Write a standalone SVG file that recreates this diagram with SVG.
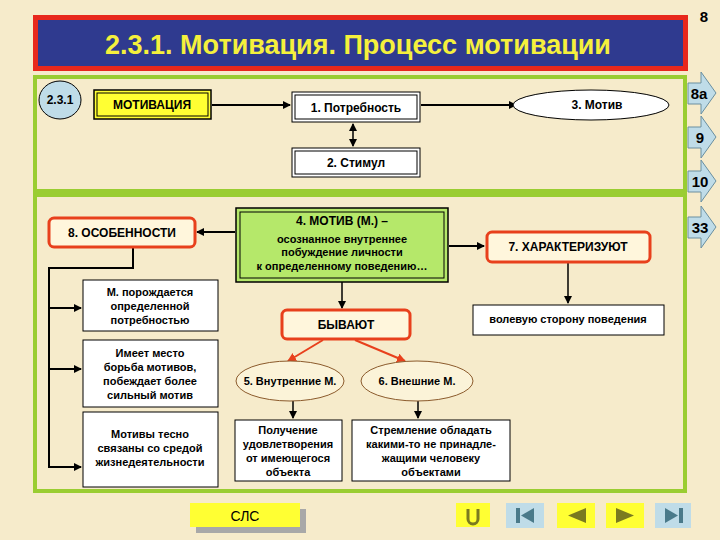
<svg xmlns="http://www.w3.org/2000/svg" width="720" height="540" viewBox="0 0 720 540">
<defs>
<marker id="ah" markerWidth="8" markerHeight="8" refX="7" refY="4" orient="auto" markerUnits="userSpaceOnUse"><path d="M0,0 L8,4 L0,8 Z" fill="#000"/></marker>
<marker id="ahs" markerWidth="8" markerHeight="8" refX="1" refY="4" orient="auto" markerUnits="userSpaceOnUse"><path d="M8,0 L0,4 L8,8 Z" fill="#000"/></marker>
<marker id="ahr" markerWidth="9" markerHeight="9" refX="8" refY="4.5" orient="auto" markerUnits="userSpaceOnUse"><path d="M0,0 L9,4.5 L0,9 Z" fill="#E8401C"/></marker>
</defs>
<style>
text{font-family:"Liberation Sans",Arial,sans-serif;font-weight:bold;text-anchor:middle;fill:#000}
.s{font-size:11px}
.m{font-size:12px}
.box{fill:#fff;stroke:#000;stroke-width:1}
.ell{fill:#FBF3D8;stroke:#8B5A2B;stroke-width:1}
.red{fill:#FFF6DC;stroke:#E8401C;stroke-width:3}
.ln{stroke:#000;stroke-width:2;fill:none}
.nav{fill:#BFDCE8;stroke:#6A8FA0;stroke-width:1}
</style>
<rect width="720" height="540" fill="#F6EBCB"/>
<rect x="33" y="15" width="655" height="56" fill="#E8281C"/>
<rect x="38" y="20" width="645" height="46" fill="#2F3A8F"/>
<text x="358" y="54" style="font-size:27px;fill:#F5F03C">2.3.1. Мотивация. Процесс мотивации</text>
<text x="704" y="22" style="font-size:15px">8</text>
<rect x="35" y="77" width="650" height="114" fill="none" stroke="#9ACD32" stroke-width="4"/>
<rect x="35" y="195" width="650" height="296" fill="none" stroke="#9ACD32" stroke-width="4"/>
<g id="nav-right">
<path d="M688,83 L701,83 L701,72 L716,93 L701,114 L701,104 L688,104 Z" class="nav"/><text x="699" y="99" style="font-size:15px">8а</text>
<path d="M688,127 L701,127 L701,116 L716,137 L701,158 L701,148 L688,148 Z" class="nav"/><text x="700" y="143" style="font-size:15px">9</text>
<path d="M688,171 L701,171 L701,160 L716,181 L701,202 L701,192 L688,192 Z" class="nav"/><text x="700" y="187" style="font-size:15px">10</text>
<path d="M688,217 L701,217 L701,206 L716,227 L701,248 L701,238 L688,238 Z" class="nav"/><text x="700" y="233" style="font-size:15px">33</text>
</g>
<g id="connectors">
<line x1="212" y1="105" x2="290" y2="105" class="ln" marker-end="url(#ah)"/>
<line x1="421" y1="105" x2="516" y2="105" class="ln" marker-end="url(#ah)"/>
<line x1="353" y1="124" x2="353" y2="146" stroke="#000" stroke-width="1.5" marker-start="url(#ahs)" marker-end="url(#ah)"/>
<line x1="235" y1="232" x2="197" y2="232" class="ln" marker-end="url(#ah)"/>
<line x1="449" y1="246" x2="484" y2="246" class="ln" marker-end="url(#ah)"/>
<line x1="568" y1="263" x2="568" y2="303" stroke="#000" stroke-width="1.5" marker-end="url(#ah)"/>
<line x1="342" y1="282" x2="342" y2="308" stroke="#000" stroke-width="1.5" marker-end="url(#ah)"/>
<line x1="323" y1="340" x2="288" y2="361" stroke="#E8401C" stroke-width="2" marker-end="url(#ahr)"/>
<line x1="355" y1="340" x2="405" y2="361" stroke="#E8401C" stroke-width="2" marker-end="url(#ahr)"/>
<line x1="293" y1="401" x2="293" y2="418" stroke="#000" stroke-width="1.5" marker-end="url(#ah)"/>
<line x1="418" y1="401" x2="418" y2="418" stroke="#000" stroke-width="1.5" marker-end="url(#ah)"/>
<polyline points="133,248 133,268 49,268 49,467 81,467" class="ln" marker-end="url(#ah)"/>
<line x1="49" y1="308" x2="81" y2="308" class="ln" marker-end="url(#ah)"/>
<line x1="49" y1="369" x2="81" y2="369" class="ln" marker-end="url(#ah)"/>
</g>
<g id="n231"><ellipse cx="60" cy="100" rx="21" ry="19" fill="#BFDCE8" stroke="#000"/><text x="60" y="104" class="m">2.3.1</text></g>
<g id="motivatsiya"><rect x="94" y="90" width="117" height="29" fill="#FFFF33" stroke="#000" stroke-width="1.5"/><rect x="97" y="93" width="111" height="23" fill="none" stroke="#000"/><text x="152" y="109" class="m">МОТИВАЦИЯ</text></g>
<g id="potrebnost"><rect x="292" y="92" width="128" height="30" class="box" stroke-width="1.5"/><rect x="295" y="95" width="122" height="24" fill="none" stroke="#000"/><text x="356" y="112" class="m">1. Потребность</text></g>
<g id="motiv3"><ellipse cx="591" cy="105" rx="78" ry="15" fill="#fff" stroke="#000"/><text x="597" y="109" class="m">3. Мотив</text></g>
<g id="stimul"><rect x="292" y="148" width="128" height="29" class="box" stroke-width="1.5"/><rect x="295" y="151" width="122" height="23" fill="none" stroke="#000"/><text x="356" y="167" class="m">2. Стимул</text></g>
<g id="osobennosti"><rect x="49" y="218" width="146" height="29" rx="5" class="red"/><text x="122" y="237" class="m">8. ОСОБЕННОСТИ</text></g>
<g id="motiv4"><rect x="236" y="208" width="212" height="74" fill="#B5E86A" stroke="#000" stroke-width="1.5"/><rect x="240" y="212" width="204" height="66" fill="none" stroke="#000"/>
<text x="342" y="225" class="m">4. МОТИВ (М.) –</text><text x="342" y="243" class="s">осознанное внутреннее</text><text x="342" y="256" class="s">побуждение личности</text><text x="342" y="270" class="s">к определенному поведению…</text></g>
<g id="harakt"><rect x="487" y="232" width="163" height="30" rx="5" class="red"/><text x="568" y="251" class="m">7. ХАРАКТЕРИЗУЮТ</text></g>
<g id="volevuyu"><rect x="473" y="305" width="191" height="30" class="box"/><text x="568" y="323" class="s">волевую сторону поведения</text></g>
<g id="byvayut"><rect x="282" y="310" width="128" height="29" rx="5" class="red"/><text x="346" y="329" class="m">БЫВАЮТ</text></g>
<g id="vnutr"><ellipse cx="290" cy="381" rx="54" ry="20" class="ell"/><text x="290" y="385" class="s">5. Внутренние М.</text></g>
<g id="vnesh"><ellipse cx="417" cy="381" rx="56" ry="20" class="ell"/><text x="417" y="385" class="s">6. Внешние М.</text></g>
<g id="o1"><rect x="83" y="280" width="135" height="51" class="box"/><text x="150" y="296" class="s">М. порождается</text><text x="150" y="310" class="s">определенной</text><text x="150" y="324" class="s">потребностью</text></g>
<g id="o2"><rect x="83" y="340" width="135" height="67" class="box"/><text x="150" y="357" class="s">Имеет место</text><text x="150" y="371" class="s">борьба мотивов,</text><text x="150" y="385" class="s">побеждает более</text><text x="150" y="399" class="s">сильный мотив</text></g>
<g id="o3"><rect x="83" y="412" width="135" height="75" class="box"/><text x="150" y="438" class="s">Мотивы тесно</text><text x="150" y="452" class="s">связаны со средой</text><text x="150" y="466" class="s">жизнедеятельности</text></g>
<g id="poluchenie"><rect x="235" y="420" width="107" height="61" class="box"/><text x="288" y="434" class="s">Получение</text><text x="288" y="448" class="s">удовлетворения</text><text x="288" y="462" class="s">от имеющегося</text><text x="288" y="476" class="s">объекта</text></g>
<g id="stremlenie"><rect x="352" y="420" width="158" height="61" class="box"/><text x="431" y="434" class="s">Стремление обладать</text><text x="431" y="448" class="s">какими-то не принадле-</text><text x="431" y="462" class="s">жащими человеку</text><text x="431" y="476" class="s">объектами</text></g>
<g id="sls"><rect x="196" y="509" width="110" height="24" fill="#A8A8A8"/><rect x="190" y="503" width="110" height="24" fill="#FFFF33"/><text x="245" y="521" style="font-size:14px;font-weight:normal">СЛС</text></g>
<g id="navbottom">
<rect x="456" y="503" width="34" height="24" fill="#FFFF33"/><path d="M468,509 v10 a5,5 0 0 0 10,0 v-10" stroke="#7A7A20" stroke-width="3" fill="none"/>
<rect x="506" y="503" width="38" height="25" fill="#BFDCE8"/><rect x="516" y="508" width="4" height="15" fill="#4A7A8A"/><path d="M534,508 L521,515.5 L534,523 Z" fill="#4A7A8A"/>
<rect x="557" y="503" width="38" height="25" fill="#FFFF33"/><path d="M586,508 L568,515.5 L586,523 Z" fill="#7A7A20"/>
<rect x="606" y="503" width="38" height="25" fill="#FFFF33"/><path d="M616,508 L634,515.5 L616,523 Z" fill="#7A7A20"/>
<rect x="655" y="503" width="36" height="25" fill="#BFDCE8"/><path d="M665,508 L678,515.5 L665,523 Z" fill="#4A7A8A"/><rect x="679" y="508" width="4" height="15" fill="#4A7A8A"/>
</g>
</svg>
